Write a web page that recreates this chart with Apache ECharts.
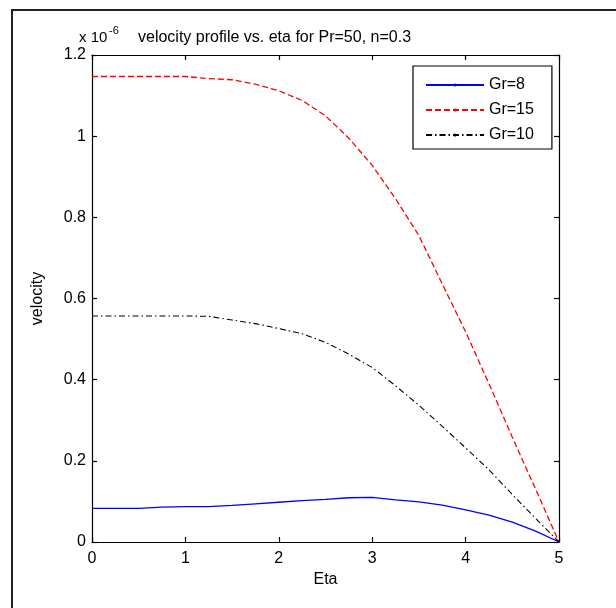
<!DOCTYPE html>
<html>
<head>
<meta charset="utf-8">
<script src="https://cdn.jsdelivr.net/npm/echarts@6/dist/echarts.min.js"></script>
<style>
html,body{margin:0;padding:0;background:#fff;}
#c{width:616px;height:608px;}
</style>
</head>
<body>
<div id="c"></div>
<script>
// Eta values (x axis)
var eta = [0, 0.25, 0.5, 0.75, 1.0, 1.25, 1.5, 1.75, 2.0, 2.25, 2.5, 2.75, 3.0, 3.25, 3.5, 3.75, 4.0, 4.25, 4.5, 4.75, 5.0];
// velocity values in units of 1e-6
var gr8  = [0.083, 0.083, 0.083, 0.086, 0.087, 0.087, 0.090, 0.094, 0.098, 0.102, 0.105, 0.109, 0.110, 0.104, 0.099, 0.091, 0.079, 0.066, 0.049, 0.027, 0.0];
var gr15 = [1.147, 1.147, 1.147, 1.147, 1.147, 1.142, 1.139, 1.128, 1.112, 1.088, 1.050, 0.995, 0.928, 0.846, 0.755, 0.636, 0.518, 0.390, 0.258, 0.130, 0.0];
var gr10 = [0.557, 0.557, 0.557, 0.557, 0.557, 0.556, 0.547, 0.538, 0.526, 0.513, 0.492, 0.463, 0.430, 0.385, 0.337, 0.285, 0.232, 0.178, 0.117, 0.058, 0.0];
var seriesNames = ['Gr=8', 'Gr=15', 'Gr=10'];
var xTicks = {min: 0, max: 5, interval: 1};
var yTicks = {min: 0, max: 1.2, interval: 0.2};

function pairs(ys){ return eta.map(function(x,i){ return [x, ys[i]]; }); }

var FONT = 'Liberation Sans, Arial, sans-serif';
var chart = echarts.init(document.getElementById('c'), null, {renderer: 'canvas'});

function axisCommon(){
  return {
    axisLine: {show: true, onZero: false, lineStyle: {color: '#000', width: 1.2}},
    axisTick: {show: true, inside: true, length: 5, lineStyle: {color: '#000', width: 1.2}},
    splitLine: {show: false}
  };
}

chart.setOption({
  animation: false,
  backgroundColor: '#fff',
  grid: {left: 92, top: 55, width: 467, height: 487, containLabel: false},
  xAxis: [
    Object.assign({type: 'value', position: 'bottom', min: xTicks.min, max: xTicks.max, interval: xTicks.interval,
      name: 'Eta', nameLocation: 'middle', nameGap: 30,
      nameTextStyle: {fontFamily: FONT, fontSize: 16, color: '#000'},
      axisLabel: {fontFamily: FONT, fontSize: 16, color: '#000', margin: 9}}, axisCommon()),
    Object.assign({type: 'value', position: 'top', min: xTicks.min, max: xTicks.max, interval: xTicks.interval,
      axisLabel: {show: false}}, axisCommon())
  ],
  yAxis: [
    Object.assign({type: 'value', position: 'left', min: yTicks.min, max: yTicks.max, interval: yTicks.interval,
      name: 'velocity', nameLocation: 'middle', nameGap: 46,
      nameTextStyle: {fontFamily: FONT, fontSize: 16, color: '#000'},
      axisLabel: {fontFamily: FONT, fontSize: 16, color: '#000', margin: 6}}, axisCommon()),
    Object.assign({type: 'value', position: 'right', min: yTicks.min, max: yTicks.max, interval: yTicks.interval,
      axisLabel: {show: false}}, axisCommon())
  ],
  legend: {
    data: seriesNames,
    orient: 'vertical',
    left: 413, top: 66,
    padding: [11, 18, 6, 12],
    itemWidth: 58, itemHeight: 4, itemGap: 9,
    backgroundColor: '#fff',
    borderColor: '#000', borderWidth: 1.2, borderRadius: 0,
    textStyle: {fontFamily: FONT, fontSize: 16, color: '#000'}
  },
  graphic: [
    {type: 'rect', silent: true, z: -1, shape: {x: 12, y: 10, width: 800, height: 800}, style: {fill: 'none', stroke: '#222', lineWidth: 2}},
    {type: 'text', x: 79, y: 30, style: {text: 'x 10', font: '15px ' + FONT, fill: '#000', verticalAlign: 'top'}},
    {type: 'text', x: 109, y: 25, style: {text: '-6', font: '11px ' + FONT, fill: '#000', verticalAlign: 'top'}},
    {type: 'text', x: 138, y: 30, style: {text: 'velocity profile vs. eta for Pr=50, n=0.3', font: '16px ' + FONT, fill: '#000', verticalAlign: 'top'}}
  ],
  series: [
    {name: seriesNames[0], type: 'line', data: pairs(gr8), symbol: 'circle', showSymbol: false, symbolSize: 4,
      lineStyle: {color: '#0000ff', width: 1.3, type: 'solid'}, itemStyle: {color: '#0000ff'}},
    {name: seriesNames[1], type: 'line', data: pairs(gr15), symbol: 'circle', showSymbol: false, symbolSize: 4,
      lineStyle: {color: '#ff0000', width: 1.3, type: [6, 3]}, itemStyle: {color: '#ff0000'}},
    {name: seriesNames[2], type: 'line', data: pairs(gr10), symbol: 'circle', showSymbol: false, symbolSize: 4,
      lineStyle: {color: '#000000', width: 1.1, type: [6, 3, 1.5, 3]}, itemStyle: {color: '#000000'}}
  ]
});
</script>
</body>
</html>
